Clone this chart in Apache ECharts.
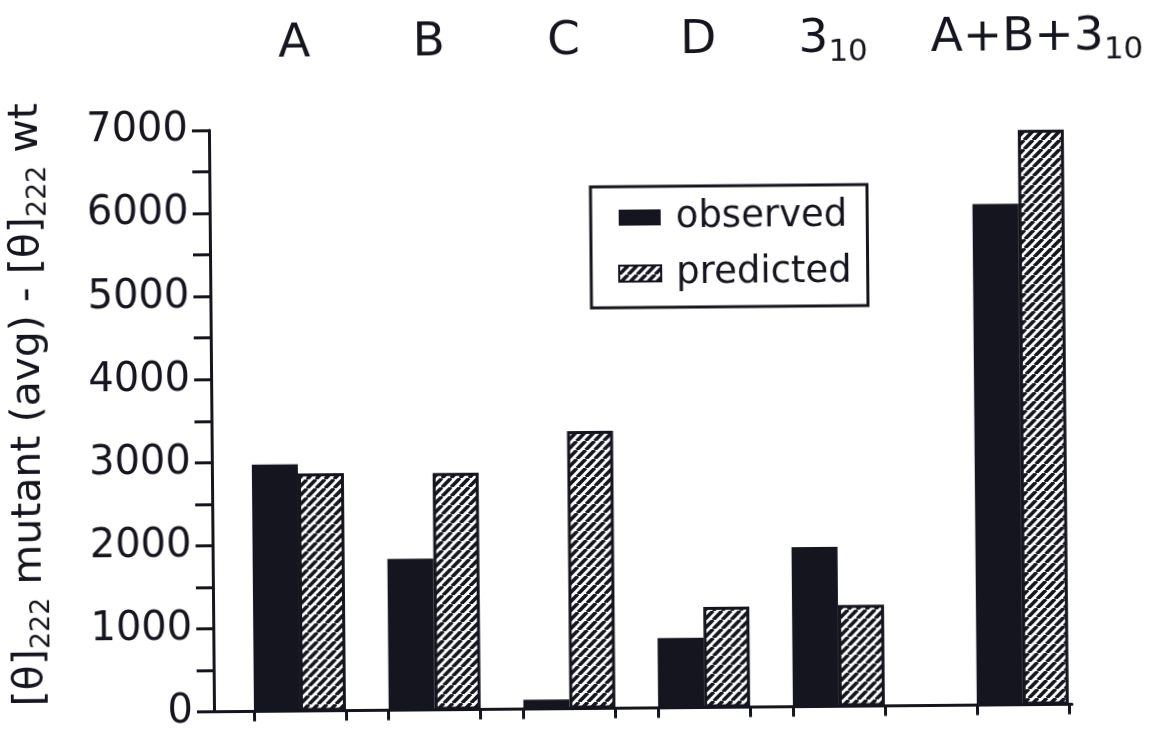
<!DOCTYPE html>
<html>
<head>
<meta charset="utf-8">
<script src="https://cdn.jsdelivr.net/npm/echarts@6/dist/echarts.min.js"></script>
<style>
  html, body { margin: 0; padding: 0; background: #fff; }
  #chart { width: 1170px; height: 732px; transform: rotate(-0.5deg); }
</style>
</head>
<body>
<div id="chart"></div>
<script>
// Helix groups (rich-text markup gives the 3-10 helix its subscript)
const categories = ['A', 'B', 'C', 'D', '3{sub|10}', 'A+B+3{sub|10}'];
// [θ]222 difference, mutant minus wild type
const observed  = [2970, 1820, 110, 840, 1920, 6030];
const predicted = [2860, 2850, 3340, 1210, 1220, 6920];
const yMin = 0, yMax = 7000, yStep = 1000;

// Layout: group centres along the x axis (in group-spacing units)
const groupPos = [0, 1, 2, 3, 4, 5.365];
const xMin = -0.638, xMax = 5.73;
const gridLeft = 211, gridRight = 101, gridTop = 127, gridBottom = 23.5;
const barPx = 46;

const INK = '#15151f';
const FONT = 'DejaVu Sans';

function stripes(size, lw) {
  const c = document.createElement('canvas');
  c.width = c.height = size;
  const g = c.getContext('2d');
  g.fillStyle = '#fff';
  g.fillRect(0, 0, size, size);
  g.strokeStyle = INK;
  g.lineWidth = lw;
  g.beginPath();
  for (let k = -1; k <= 1; k++) {
    g.moveTo(k * size, size);
    g.lineTo(k * size + size, 0);
  }
  g.stroke();
  return c;
}

const pxPerUnit = (1170 - gridLeft - gridRight) / (xMax - xMin);
const half = barPx / pxPerUnit;
const edgeTicks = [];
groupPos.forEach(p => { edgeTicks.push(p - half, p + half); });

// Group heading for a tick value; the combined group's heading sits a little to the right
function labelFor(v) {
  let best = 0;
  groupPos.forEach((p, i) => { if (Math.abs(p - v) < Math.abs(groupPos[best] - v)) best = i; });
  return best === categories.length - 1 ? '{lead| }' + categories[best] : categories[best];
}

const chart = echarts.init(document.getElementById('chart'));
chart.setOption({
  animation: false,
  backgroundColor: '#fff',
  grid: {
    left: gridLeft, right: gridRight, top: gridTop, bottom: gridBottom,
    containLabel: false, outerBoundsMode: 'none'
  },
  legend: {
    orient: 'vertical',
    left: 592,
    top: 187,
    icon: 'rect',
    itemWidth: 42,
    itemHeight: 16,
    itemGap: 16,
    padding: [11, 16, 14, 27],
    borderColor: INK,
    borderWidth: 3,
    backgroundColor: '#fff',
    textStyle: { fontFamily: FONT, fontSize: 37, color: INK, lineHeight: 40, padding: [0, 0, 0, 10] },
    data: ['observed', 'predicted']
  },
  xAxis: [
    {
      type: 'value',
      min: xMin,
      max: xMax,
      position: 'bottom',
      splitLine: { show: false },
      axisLine: { show: true, onZero: false, lineStyle: { color: INK, width: 3 } },
      axisTick: { show: true, customValues: edgeTicks, length: 10, lineStyle: { color: INK, width: 3 } },
      axisLabel: { show: false }
    },
    {
      type: 'value',
      min: xMin,
      max: xMax,
      position: 'top',
      splitLine: { show: false },
      axisLine: { show: false, onZero: false },
      axisTick: { show: false },
      axisLabel: {
        show: true,
        customValues: groupPos,
        margin: 57,
        formatter: v => labelFor(v),
        fontFamily: FONT,
        fontSize: 47,
        color: INK,
        lineHeight: 56,
        rich: {
          sub: { fontFamily: FONT, fontSize: 31, lineHeight: 31, verticalAlign: 'bottom', color: INK },
          lead: { fontFamily: FONT, fontSize: 47, width: 40, color: INK }
        }
      }
    }
  ],
  yAxis: {
    type: 'value',
    min: yMin,
    max: yMax,
    interval: yStep,
    splitLine: { show: false },
    axisLine: { show: true, onZero: false, lineStyle: { color: INK, width: 3 } },
    axisTick: { show: true, length: 17, lineStyle: { color: INK, width: 3 } },
    minorTick: { show: true, splitNumber: 2, length: 17, lineStyle: { color: INK, width: 3 } },
    axisLabel: { fontFamily: FONT, fontSize: 40, color: INK, margin: 21, formatter: v => String(v) },
    name: '[θ]{sub|222} mutant (avg) - [θ]{sub|222} wt',
    nameLocation: 'middle',
    nameGap: 158,
    nameTextStyle: {
      fontFamily: FONT,
      fontSize: 41,
      color: INK,
      lineHeight: 50,
      padding: [0, 0, 0, 36],
      rich: {
        sub: { fontFamily: FONT, fontSize: 27, lineHeight: 27, verticalAlign: 'bottom', color: INK }
      }
    }
  },
  series: [
    {
      name: 'observed',
      type: 'bar',
      xAxisIndex: 0,
      barWidth: barPx,
      barGap: '0%',
      itemStyle: { color: INK },
      data: observed.map((v, i) => [groupPos[i], v])
    },
    {
      name: 'predicted',
      type: 'bar',
      xAxisIndex: 0,
      barWidth: barPx,
      barGap: '0%',
      itemStyle: {
        color: { image: stripes(9, 3.6), repeat: 'repeat' },
        borderColor: INK,
        borderWidth: 3
      },
      data: predicted.map((v, i) => [groupPos[i], v])
    }
  ]
});
</script>
</body>
</html>
